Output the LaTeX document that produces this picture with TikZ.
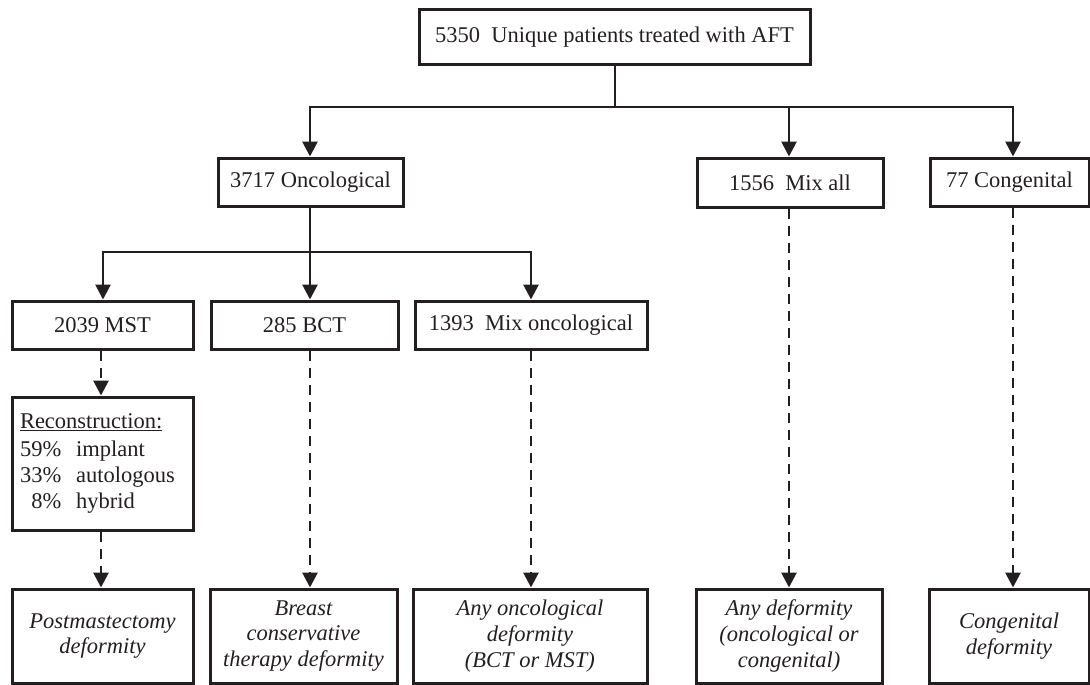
\documentclass[tikz,border=0pt]{standalone}
\usepackage{fontspec}
\setmainfont{Liberation Serif}
\usetikzlibrary{arrows.meta}
\definecolor{ink}{RGB}{35,31,32}
\begin{document}
\begin{tikzpicture}[x=1pt,y=-1pt,
  box/.style={draw=ink, line width=3pt, text=ink, inner sep=0pt, align=center,
    font=\fontsize{22.5}{25.7}\selectfont},
  ibox/.style={box, font=\fontsize{22.5}{25.7}\selectfont\itshape},
  arr/.style={draw=ink, line width=2.8pt, -{Triangle[width=15pt,length=15pt]}},
  darr/.style={arr, dash pattern=on 10pt off 7pt},
  ln/.style={draw=ink, line width=2.8pt}]
\useasboundingbox (0,0) rectangle (1090,685);

% level 0
\node[box, minimum width=391pt, minimum height=55pt] (top) at (614.5,37.5) {5350\ \ Unique patients treated with AFT};
% level 1
\node[box, minimum width=185pt, minimum height=48pt] (onc) at (310.5,182) {3717 Oncological};
\node[box, minimum width=186pt, minimum height=49pt] (mixall) at (790,182.5) {1556\ \ Mix all};
\node[box, minimum width=159pt, minimum height=48pt] (cong) at (1009.5,182) {77 Congenital};
% level 2
\node[box, minimum width=181pt, minimum height=48pt] (mst) at (102.5,325) {2039 MST};
\node[box, minimum width=187pt, minimum height=48pt] (bct) at (304.5,325) {285 BCT};
\node[box, minimum width=232pt, minimum height=48pt] (mixonc) at (531,325) {1393\ \ Mix oncological};
% reconstruction
\node[box, align=left, text width=165pt, inner xsep=8pt, minimum height=133pt] (recon) at (102.5,463.5)
  {\underline{Reconstruction:}\\[2pt]
   59\%\ \ implant\\
   33\%\ \ autologous\\
   \phantom{0}8\%\ \ hybrid};
% bottom
\node[ibox, minimum width=181pt, minimum height=94pt] (post) at (102.5,636) {Postmastectomy\\deformity};
\node[ibox, minimum width=187pt, minimum height=94pt] (bctdef) at (303.5,636) {Breast\\conservative\\therapy deformity};
\node[ibox, minimum width=234pt, minimum height=94pt] (anyonc) at (530,636) {Any oncological\\deformity\\(BCT or MST)};
\node[ibox, minimum width=186pt, minimum height=94pt] (anydef) at (789,636) {Any deformity\\(oncological or\\congenital)};
\node[ibox, minimum width=160pt, minimum height=94pt] (congdef) at (1009,636) {Congenital\\deformity};

% junction coordinates
\coordinate (j0) at (615,107);
\coordinate (b1) at (310,107);
\coordinate (b2) at (789,107);
\coordinate (b3) at (1013,107);
\coordinate (j1) at (310,252);
\coordinate (c1) at (103,252);
\coordinate (c3) at (531,252);
\coordinate (dx1) at (101,0);
\coordinate (dx2) at (310,0);
\coordinate (dx3) at (531,0);
\coordinate (dx4) at (789,0);
\coordinate (dx5) at (1013,0);

% solid connectors
\draw[ln] (top.south -| j0) -- (j0);
\draw[arr] (j0) -- (b1) -- (b1 |- onc.north);
\draw[arr] (j0) -- (b3) -- (b3 |- cong.north);
\draw[arr] (b2) -- (b2 |- mixall.north);
\draw[arr] (onc.south -| j1) -- (j1 |- bct.north);
\draw[arr] (j1) -- (c1) -- (c1 |- mst.north);
\draw[arr] (j1) -- (c3) -- (c3 |- mixonc.north);

% dashed connectors
\draw[darr] (mst.south -| dx1) -- (recon.north -| dx1);
\draw[darr] (recon.south -| dx1) -- (post.north -| dx1);
\draw[darr] (bct.south -| dx2) -- (bctdef.north -| dx2);
\draw[darr] (mixonc.south -| dx3) -- (anyonc.north -| dx3);
\draw[darr] (mixall.south -| dx4) -- (anydef.north -| dx4);
\draw[darr] (cong.south -| dx5) -- (congdef.north -| dx5);
\end{tikzpicture}
\end{document}
